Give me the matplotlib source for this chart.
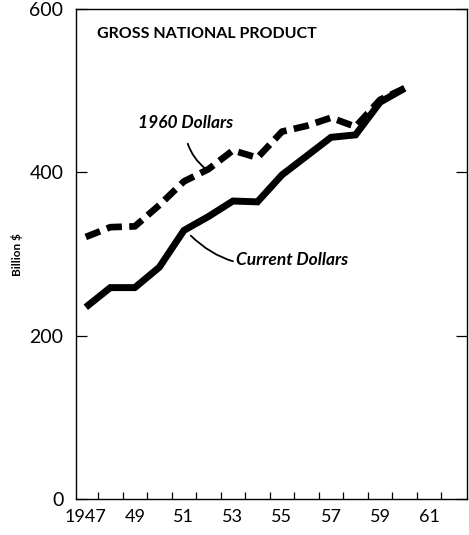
import matplotlib.pyplot as plt #Importing the libraries used in the program
import numpy as np

plt.rcParams['font.family'] = ['Lato', 'DejaVu Sans']

#Data (billion $)
years = [1947, 1948, 1949, 1950, 1951, 1952, 1953, 1954, 1955, 1956, 1957, 1958, 1959, 1960]
current_dollars = [235, 259, 259, 284, 329, 346, 365, 364, 397, 420, 443, 446, 486, 503]
dollars_1960 = [321, 333, 334, 360, 389, 404, 427, 418, 450, 457, 467, 456, 489, 503]
label_years = [1947, 1949, 1951, 1953, 1955, 1957, 1959, 1961]
label_text = ['1947', '49', '51', '53', '55', '57', '59', '61']
y_ticks = [0, 200, 400, 600]

fig = plt.figure(figsize=(4.69, 5.35), dpi=100)
ax = fig.add_axes([0.162, 0.067, 0.834, 0.916])

ax.plot(years, current_dollars, color='black', linewidth=5, solid_capstyle='butt', solid_joinstyle='miter')
ax.plot(years, dollars_1960, color='black', linewidth=4.8, dashes=(2.3, 1.1), dash_capstyle='butt')

ax.set_xlim(1946.6, 1962.55)
ax.set_ylim(0, 598)

#tick marks sit between the years, labels on the odd years
ax.set_xticks(np.arange(1947.5, 1962, 1.0))
ax.set_xticklabels([])
ax.tick_params(axis='x', which='major', direction='in', length=5, width=0.9)
ax.set_xticks(label_years, minor=True)
ax.set_xticklabels(label_text, minor=True, fontsize=13)
ax.tick_params(axis='x', which='minor', length=0, pad=7)

ax.set_yticks(y_ticks)
ax.set_yticklabels([str(v) for v in y_ticks], fontsize=14)
ax.tick_params(axis='y', direction='in', length=8, width=0.9, right=True, pad=9)

for s in ax.spines.values():
    s.set_linewidth(1.0)

ax.set_ylabel('Billion $', fontsize=8.5, fontweight='bold', labelpad=5)

ax.text(0.055, 0.95, 'GROSS NATIONAL PRODUCT', transform=ax.transAxes, fontsize=11.5, fontweight='bold', va='center')

ax.annotate('1960 Dollars', xy=(1951.9, 404), xytext=(1951.05, 460),
            fontsize=12.5, fontweight='bold', fontstyle='italic', ha='center', va='center',
            arrowprops=dict(arrowstyle='-', color='black', lw=1.3, shrinkA=7, shrinkB=0,
                            connectionstyle='arc3,rad=0.25'))
ax.annotate('Current Dollars', xy=(1951.2, 325), xytext=(1955.4, 293),
            fontsize=12.5, fontweight='bold', fontstyle='italic', ha='center', va='center',
            arrowprops=dict(arrowstyle='-', color='black', lw=1.3, shrinkA=58, shrinkB=2,
                            connectionstyle='arc3,rad=-0.3'))

plt.savefig('out.png', dpi=100)
